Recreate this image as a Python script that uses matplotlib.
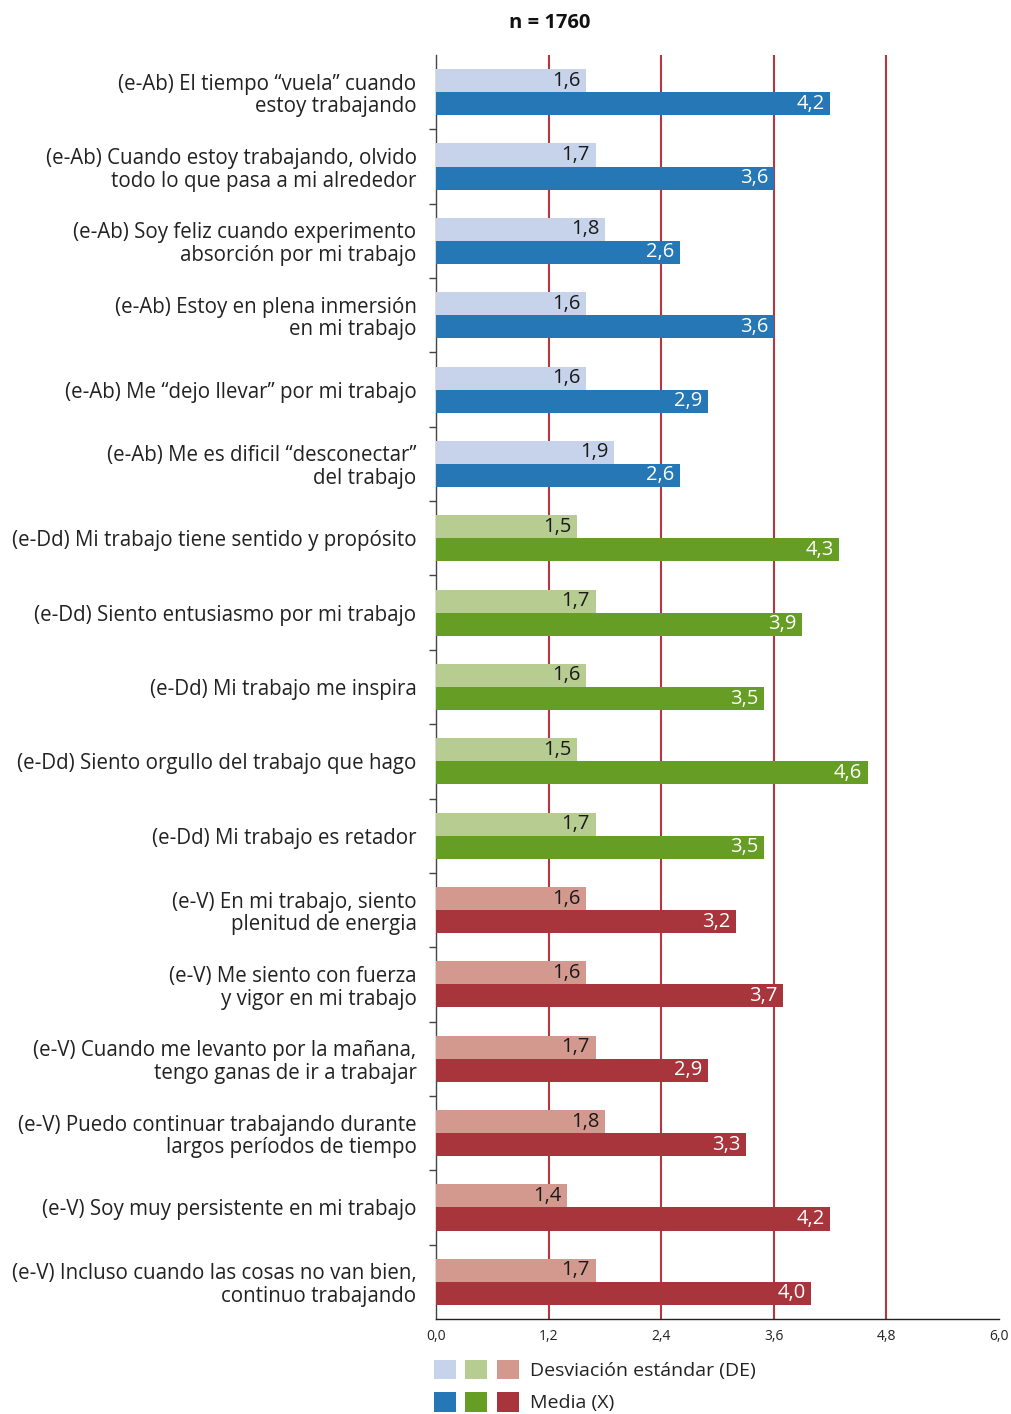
import matplotlib
matplotlib.use("Agg")
import matplotlib.pyplot as plt
from matplotlib.patches import Patch
from matplotlib.legend_handler import HandlerTuple
import numpy as np

plt.rcParams['font.family'] = ['Open Sans', 'DejaVu Sans']

categories = [
    "(e-Ab) El tiempo “vuela” cuando\nestoy trabajando",
    "(e-Ab) Cuando estoy trabajando, olvido\ntodo lo que pasa a mi alrededor",
    "(e-Ab) Soy feliz cuando experimento\nabsorción por mi trabajo",
    "(e-Ab) Estoy en plena inmersión\nen mi trabajo",
    "(e-Ab) Me “dejo llevar” por mi trabajo",
    "(e-Ab) Me es dificil “desconectar”\ndel trabajo",
    "(e-Dd) Mi trabajo tiene sentido y propósito",
    "(e-Dd) Siento entusiasmo por mi trabajo",
    "(e-Dd) Mi trabajo me inspira",
    "(e-Dd) Siento orgullo del trabajo que hago",
    "(e-Dd) Mi trabajo es retador",
    "(e-V) En mi trabajo, siento\nplenitud de energia",
    "(e-V) Me siento con fuerza\ny vigor en mi trabajo",
    "(e-V) Cuando me levanto por la mañana,\ntengo ganas de ir a trabajar",
    "(e-V) Puedo continuar trabajando durante\nlargos períodos de tiempo",
    "(e-V) Soy muy persistente en mi trabajo",
    "(e-V) Incluso cuando las cosas no van bien,\ncontinuo trabajando",
]
groups = ["Ab"] * 6 + ["Dd"] * 5 + ["V"] * 6
sd_values = [1.6, 1.7, 1.8, 1.6, 1.6, 1.9, 1.5, 1.7, 1.6, 1.5, 1.7,
             1.6, 1.6, 1.7, 1.8, 1.4, 1.7]
mean_values = [4.2, 3.6, 2.6, 3.6, 2.9, 2.6, 4.3, 3.9, 3.5, 4.6, 3.5,
               3.2, 3.7, 2.9, 3.3, 4.2, 4.0]
x_ticks = [0.0, 1.2, 2.4, 3.6, 4.8, 6.0]
title_text = "n = 1760"
legend_labels = ["Desviación estándar (DE)", "Media (X)"]

light_colors = {"Ab": "#c6d3ea", "Dd": "#b7cc91", "V": "#d3998f"}
dark_colors = {"Ab": "#2577b5", "Dd": "#659d25", "V": "#a8353b"}
grid_color = "#b5373d"

fig = plt.figure(figsize=(10.12, 14.14), dpi=100)
ax = fig.add_axes([436 / 1012, 1 - 1319 / 1414, (999 - 436) / 1012, (1319 - 55) / 1414])

n = len(categories)
y = np.arange(n)
h = 0.31

sd_cols = [light_colors[g] for g in groups]
mean_cols = [dark_colors[g] for g in groups]

ax.barh(y - h / 2, sd_values, height=h, color=sd_cols, zorder=3)
ax.barh(y + h / 2, mean_values, height=h, color=mean_cols, zorder=3)

for yi, sd, m in zip(y, sd_values, mean_values):
    ax.annotate(f"{sd:.1f}".replace(".", ","), (sd, yi - h / 2),
                xytext=(-4, 0), textcoords="offset points",
                ha="right", va="center", fontsize=14.5, color="#1a1a1a", zorder=4)
    ax.annotate(f"{m:.1f}".replace(".", ","), (m, yi + h / 2),
                xytext=(-4, 0), textcoords="offset points",
                ha="right", va="center", fontsize=14.5, color="white", zorder=4)

for xv in x_ticks[1:-1]:
    ax.axvline(xv, color=grid_color, lw=1.5, zorder=1)

ax.set_xlim(0, 6.0)
ax.set_ylim(n - 0.5, -0.5)
ax.set_xticks(x_ticks)
ax.set_xticklabels([f"{v:.1f}".replace(".", ",") for v in x_ticks], fontsize=10, color="#222222")
ax.tick_params(axis="x", length=0, pad=7)

ax.set_yticks(y)
ax.set_yticklabels(categories, fontsize=14.8, color="#222222", linespacing=1.1)
ax.tick_params(axis="y", which="major", length=0, pad=14)
ax.set_yticks(np.arange(n - 1) + 0.5, minor=True)
ax.tick_params(axis="y", which="minor", length=5, width=1, color="#444444", direction="out")

for s in ["top", "right"]:
    ax.spines[s].set_visible(False)
ax.spines["left"].set_color("#444444")
ax.spines["left"].set_linewidth(1)
ax.spines["bottom"].set_color("#222222")
ax.spines["bottom"].set_linewidth(1)

fig.text(550 / 1012, 1 - 23 / 1414, title_text, ha="center", va="center",
         fontsize=14.5, fontweight="bold", color="#111111")

sd_handles = tuple(Patch(facecolor=light_colors[g]) for g in ["Ab", "Dd", "V"])
mean_handles = tuple(Patch(facecolor=dark_colors[g]) for g in ["Ab", "Dd", "V"])
fig.legend([sd_handles, mean_handles], legend_labels,
           handler_map={tuple: HandlerTuple(ndivide=None, pad=0.5)},
           loc="upper left", bbox_to_anchor=(418 / 1012, 1 - 1344 / 1414),
           frameon=False, fontsize=14, handlelength=4.4, handleheight=1.2,
           handletextpad=0.55, labelspacing=0.6, borderpad=0.3,
           labelcolor="#222222")

fig.savefig("out.png", dpi=100)
